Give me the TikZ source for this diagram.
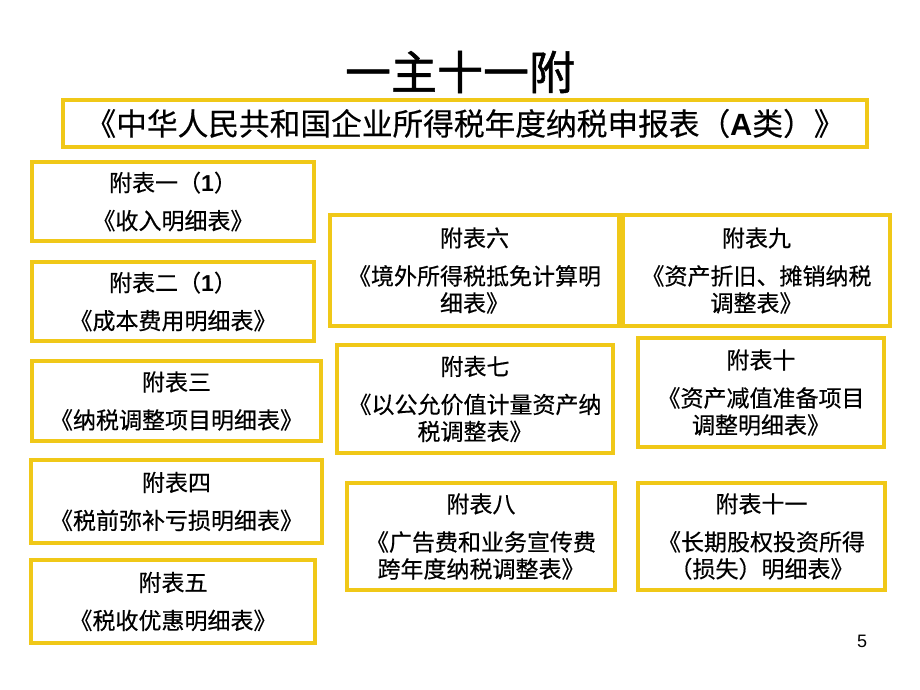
\documentclass[tikz,border=0pt]{standalone}
\usepackage{fontspec}
\setmainfont{Noto Sans CJK SC}[FakeBold=0.4]
\newfontfamily\titlefont{Noto Sans CJK SC}[FakeBold=1.2]
\newfontfamily\latin{Liberation Sans}
\definecolor{gold}{RGB}{240,200,24}
\tikzset{
  tbox/.style={draw=gold, line width=4.8pt, fill=white, inner sep=0pt, align=center,
    font=\fontsize{23}{27}\selectfont},
  hbox/.style={draw=gold, line width=4.8pt, fill=white, inner sep=0pt, align=center,
    font=\fontsize{30.7}{34}\selectfont},
}
\newcommand{\bnum}[1]{{\latin\bfseries #1}}
\begin{document}
\begin{tikzpicture}[x=1pt,y=-1pt]
\useasboundingbox[fill=white] (0,0) rectangle (920,690);
\node[font=\titlefont\fontsize{46}{50}\selectfont] (title) at (460,72) {一主十一附};
\node[hbox, minimum width=804pt, minimum height=47pt] (main) at (465,123.5)
  {《中华人民共和国企业所得税年度纳税申报表（\bnum{A}类）》};
% left column
\node[tbox, minimum width=282pt, minimum height=79pt] (b1) at (173,201.5)
  {附表一（\bnum{1}）\\[11pt]《收入明细表》};
\node[tbox, minimum width=282pt, minimum height=79pt] (b2) at (173,301.5)
  {附表二（\bnum{1}）\\[11pt]《成本费用明细表》};
\node[tbox, minimum width=289pt, minimum height=80pt] (b3) at (176.5,401)
  {附表三\\[11pt]《纳税调整项目明细表》};
\node[tbox, minimum width=291pt, minimum height=83pt] (b4) at (176.5,501.5)
  {附表四\\[11pt]《税前弥补亏损明细表》};
\node[tbox, minimum width=284pt, minimum height=83pt] (b5) at (173,601.5)
  {附表五\\[11pt]《税收优惠明细表》};
% middle column
\node[tbox, minimum width=289pt, minimum height=111pt] (b6) at (474.5,270.5)
  {附表六\\[11pt]《境外所得税抵免计算明\\细表》};
\node[tbox, minimum width=276pt, minimum height=108pt] (b7) at (475,399)
  {附表七\\[11pt]《以公允价值计量资产纳\\税调整表》};
\node[tbox, minimum width=268pt, minimum height=107pt] (b8) at (481,536.5)
  {附表八\\[11pt]《广告费和业务宣传费\\跨年度纳税调整表》};
% right column
\node[tbox, minimum width=267pt, minimum height=111pt] (b9) at (756.5,270.5)
  {附表九\\[11pt]《资产折旧、摊销纳税\\调整表》};
\node[tbox, minimum width=246pt, minimum height=109pt] (b10) at (761,392.5)
  {附表十\\[11pt]《资产减值准备项目\\调整明细表》};
\node[tbox, minimum width=247pt, minimum height=107pt] (b11) at (761.5,536.5)
  {附表十一\\[11pt]《长期股权投资所得\\（损失）明细表》};
\node[font=\latin\fontsize{18}{20}\selectfont] (pg) at (862,641) {5};
\end{tikzpicture}
\end{document}
